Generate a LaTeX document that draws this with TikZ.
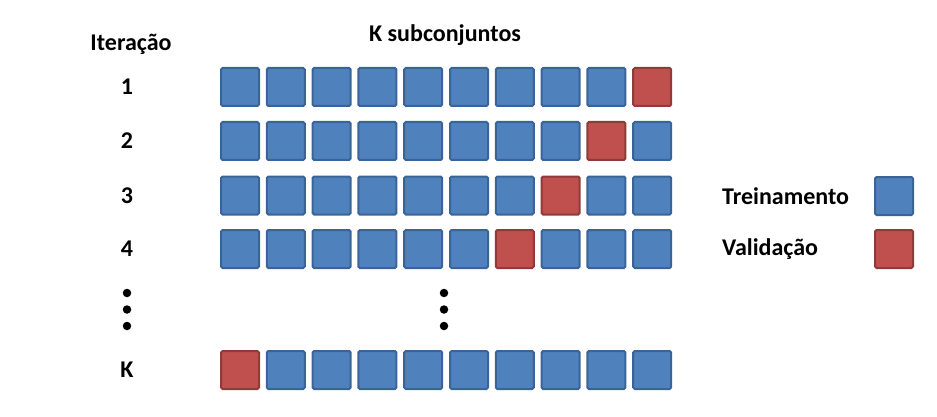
\documentclass[tikz,border=0pt]{standalone}
\usepackage{fontspec}
\setmainfont{Carlito}
\definecolor{trfill}{HTML}{4F81BD}
\definecolor{trline}{HTML}{3A6497}
\definecolor{vafill}{HTML}{C0504D}
\definecolor{valine}{HTML}{8E3B39}
\tikzset{
  cell/.style={minimum width=38pt,minimum height=38pt,inner sep=0pt,line width=2pt,rounded corners=1.5pt},
  tr/.style={cell,draw=trline,fill=trfill},
  va/.style={cell,draw=valine,fill=vafill},
  lbl/.style={font=\bfseries\fontsize{24}{28}\selectfont,inner sep=0pt},
  dot/.style={circle,fill=black,inner sep=0pt,minimum size=8.5pt}
}
\begin{document}
\begin{tikzpicture}[x=1pt,y=-1pt]
\useasboundingbox (0,0) rectangle (937,417);
\node[lbl] (hdrit) at (131,44) {Iteração};
\node[lbl] (hdrk) at (445,35) {K subconjuntos};
\foreach \r/\y/\red/\t in {1/87/9/1,2/141/8/2,3/195.5/7/3,4/249/6/4,5/370/0/K}{
  \node[lbl] (it\r) at (127,\y) {\t};
  \foreach \c in {0,...,9}{
    \ifnum\c=\red
      \node[va] (c\r-\c) at ({240+45.8*\c},\y) {};
    \else
      \node[tr] (c\r-\c) at ({240+45.8*\c},\y) {};
    \fi
  }
}
\foreach \i/\y in {1/293,2/309.5,3/326}{
  \node[dot] (ld\i) at (127,\y) {};
  \node[dot] (md\i) at (444,\y) {};
}
\node[lbl,anchor=west] (ltr) at (722,196) {Treinamento};
\node[lbl,anchor=west] (lva) at (722,249) {Validação};
\node[tr] (ktr) at (894,196) {};
\node[va] (kva) at (894,249) {};
\end{tikzpicture}
\end{document}
